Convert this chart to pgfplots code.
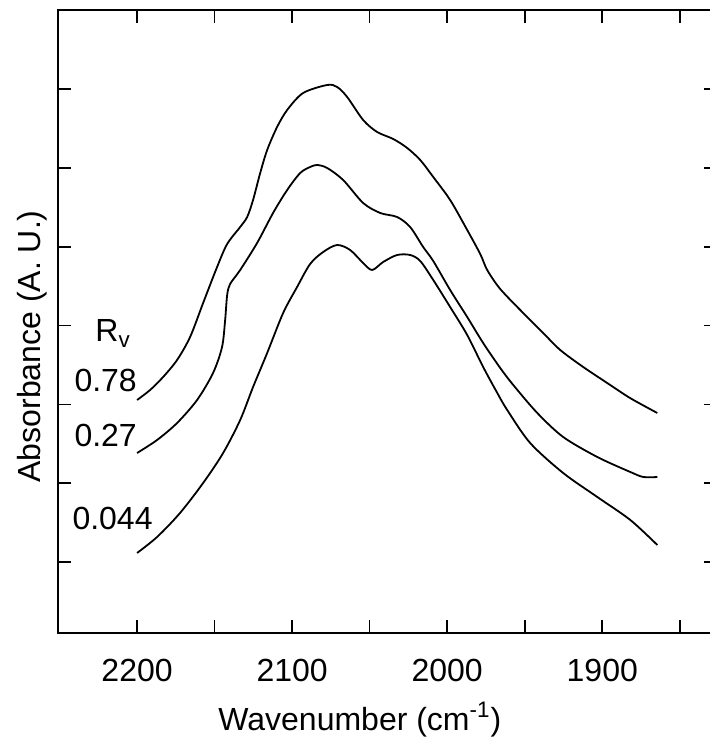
\documentclass[border=0pt]{standalone}
\usepackage{fontspec}
\setmainfont{Liberation Sans}
\usepackage{pgfplots}
\pgfplotsset{compat=1.18}
\pgfplotstableread{
w v
2200.0 23.0
2191.6 24.0
2183.2 25.3
2174.2 27.0
2165.8 29.3
2157.4 32.7
2148.4 36.3
2141.9 38.6
2133.5 40.3
2129.0 41.3
2125.2 43.0
2120.6 45.7
2116.1 48.0
2109.7 50.3
2103.2 52.0
2092.9 53.7
2077.4 54.5
2071.0 54.3
2064.5 53.3
2054.2 51.0
2045.2 49.8
2034.8 49.1
2025.8 48.2
2017.4 47.0
2009.0 45.3
1998.1 43.0
1987.1 40.0
1978.7 37.6
1974.2 36.0
1965.8 34.1
1951.0 31.7
1938.1 29.7
1927.1 28.0
1912.3 26.3
1896.8 24.7
1882.1 23.2
1864.5 21.7
}\topcurve
\pgfplotstableread{
w v
2200.0 17.7
2187.1 19.0
2174.2 20.7
2161.3 23.0
2151.0 25.7
2145.2 28.3
2143.2 31.0
2141.9 33.5
2140.0 34.6
2133.5 36.0
2122.6 38.7
2112.3 41.7
2103.2 44.0
2094.8 45.7
2088.4 46.3
2083.9 46.5
2077.4 46.2
2067.1 45.0
2054.2 42.7
2043.2 41.7
2032.3 41.3
2023.9 40.3
2015.5 38.3
2009.0 36.9
1998.1 34.0
1987.1 31.3
1976.8 28.7
1965.8 26.2
1957.4 24.5
1941.9 21.7
1925.2 19.3
1903.2 17.3
1881.9 15.8
1873.5 15.3
1864.5 15.3
}\midcurve
\pgfplotstableread{
w v
2200.0 7.7
2187.1 9.3
2172.3 11.7
2157.4 14.7
2144.5 17.7
2133.5 21.0
2125.2 24.3
2116.1 27.7
2105.8 31.7
2096.8 34.3
2088.4 36.6
2080.0 37.8
2071.0 38.5
2062.6 38.0
2054.2 36.7
2048.4 36.0
2041.3 36.8
2032.3 37.5
2023.9 37.5
2017.4 36.9
2009.0 35.0
1998.1 32.3
1987.1 29.5
1976.8 26.3
1967.7 23.7
1961.3 22.0
1946.5 18.7
1925.2 15.7
1903.2 13.3
1881.9 11.0
1864.5 8.5
}\botcurve
\begin{document}
\begin{tikzpicture}
\useasboundingbox (0,0) rectangle (354.5pt,376.5pt);
\begin{axis}[
  at={(29pt,60pt)}, anchor=south west,
  scale only axis,
  width=329.5pt, height=311.5pt,
  x dir=reverse,
  xmin=1826, xmax=2251,
  ymin=-0.3, ymax=62.0,
  axis line style={line width=0.8pt},
  tick style={line width=0.8pt, black},
  major tick length=6.5pt, minor tick length=6.5pt,
  tick align=inside,
  xtick={2200,2100,2000,1900},
  xticklabels={2200,2100,2000,1900},
  minor xtick={2150,2050,1950,1850},
  ytick={6.8,14.68,22.56,30.44,38.32,46.2,54.08},
  yticklabels={},
  xtick pos=both, ytick pos=both,
  /pgf/number format/assume math mode=true,
  ticklabel style={font=\fontsize{16}{19}\selectfont},
  xticklabel style={yshift=-9.5pt},
  xlabel={Wavenumber (cm\textsuperscript{-1})},
  ylabel={Absorbance (A. U.)},
  label style={font=\fontsize{16}{19}\selectfont},
  xlabel style={at={(axis description cs:0.458,0)}, anchor=north, yshift=-31pt},
  ylabel style={at={(axis description cs:-0.0395,0.46)}, anchor=center},
  clip=false,
]
\addplot[black, line width=0.9pt, smooth, tension=0.5] table[x=w,y=v] {\topcurve};
\addplot[black, line width=0.9pt, smooth, tension=0.5] table[x=w,y=v] {\midcurve};
\addplot[black, line width=0.9pt, smooth, tension=0.5] table[x=w,y=v] {\botcurve};
\node[anchor=base west, inner sep=0pt, font=\fontsize{16}{19}\selectfont] at (axis cs:2227.1,28.8) {R\textsubscript{v}};
\node[anchor=base west, inner sep=0pt, font=\fontsize{16}{19}\selectfont] at (axis cs:2240.6,23.8) {0.78};
\node[anchor=base west, inner sep=0pt, font=\fontsize{16}{19}\selectfont] at (axis cs:2240.6,18.3) {0.27};
\node[anchor=base west, inner sep=0pt, font=\fontsize{16}{19}\selectfont] at (axis cs:2241.9,10.0) {0.044};
\end{axis}
\end{tikzpicture}
\end{document}
